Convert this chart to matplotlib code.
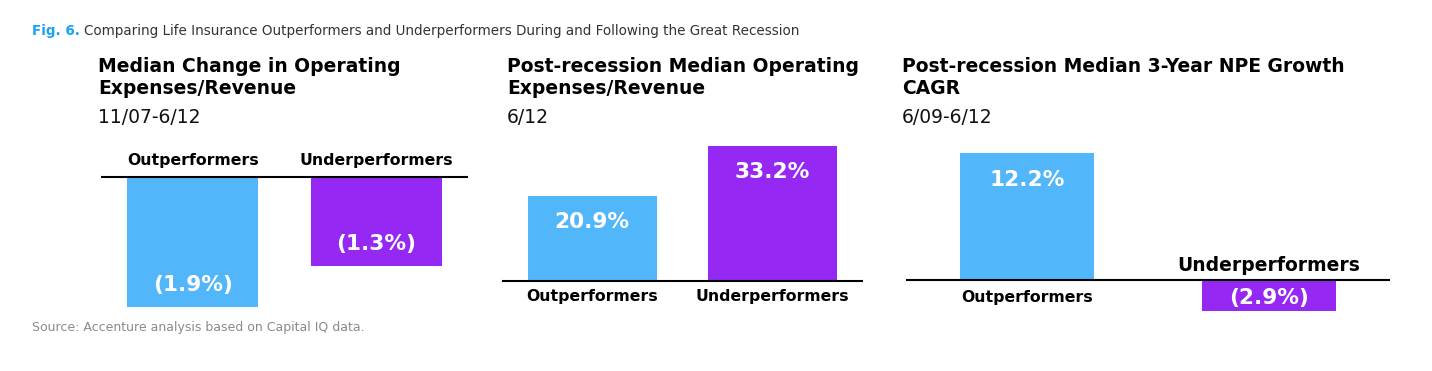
import matplotlib
matplotlib.use("Agg")
import matplotlib.pyplot as plt

# ---------------- data ----------------
categories = ["Outperformers", "Underperformers"]
panel_titles = [
    ["Median Change in Operating", "Expenses/Revenue"],
    ["Post-recession Median Operating", "Expenses/Revenue"],
    ["Post-recession Median 3-Year NPE Growth", "CAGR"],
]
panel_periods = ["11/07-6/12", "6/12", "6/09-6/12"]
change_opex = [-1.9, -1.3]
post_opex = [20.9, 33.2]
npe_growth = [12.2, -2.9]
caption_fig = "Fig. 6."
caption_text = ("Comparing Life Insurance Outperformers and Underperformers "
                "During and Following the Great Recession")
source_text = "Source: Accenture analysis based on Capital IQ data."

# ---------------- style ----------------
W, H, DPI = 1432, 371, 100
BLUE = "#52B6FA"
PURPLE = "#9529F3"
colors = [BLUE, PURPLE]
FONT = "DejaVu Sans"

fig = plt.figure(figsize=(W / DPI, H / DPI), dpi=DPI)
fig.patch.set_facecolor("white")

def fx(px):
    return px / W

def fy(py):
    return 1 - py / H

PT = 72.0 / DPI  # points per pixel

panels = [
    dict(values=change_opex, left=101, right=468, baseline=177, scale=68.3,
         width=0.714, title_x=98,
         cat_off=[17, 17], cat_size=[11.3, 11.3],
         val_off=[22, 22]),
    dict(values=post_opex, left=502, right=863, baseline=281, scale=4.07,
         width=0.716, title_x=507,
         cat_off=[-16, -16], cat_size=[11.3, 11.3],
         val_off=[-26, -26]),
    dict(values=npe_growth, left=906, right=1390, baseline=280.3, scale=10.45,
         width=0.554, title_x=902,
         cat_off=[-17, 15], cat_size=[11.3, 13.5],
         val_off=[-27, 13]),
]

AX_TOP, AX_BOT = 140, 318

for p, title_lines, period in zip(panels, panel_titles, panel_periods):
    ax = fig.add_axes([fx(p["left"]), fy(AX_BOT),
                       fx(p["right"]) - fx(p["left"]), (AX_BOT - AX_TOP) / H])
    ytop = (p["baseline"] - AX_TOP) / p["scale"]
    ybot = -(AX_BOT - p["baseline"]) / p["scale"]
    ax.set_ylim(ybot, ytop)
    ax.set_xlim(-0.5, 1.5)
    xs = list(range(len(categories)))
    ax.bar(xs, p["values"], width=p["width"], color=colors, linewidth=0,
           zorder=1)
    ax.axhline(0, color="black", lw=1.5, zorder=2)
    for s in ax.spines.values():
        s.set_visible(False)
    ax.set_xticks([])
    ax.set_yticks([])
    ax.patch.set_alpha(0)

    for i, (cat, v) in enumerate(zip(categories, p["values"])):
        ax.annotate(cat, xy=(i, 0), xytext=(0, p["cat_off"][i] * PT),
                    textcoords="offset points", ha="center", va="center",
                    fontsize=p["cat_size"][i], fontweight="bold",
                    family=FONT, color="black")
        lbl = f"{v:.1f}%" if v >= 0 else f"({abs(v):.1f}%)"
        ax.annotate(lbl, xy=(i, v), xytext=(0, p["val_off"][i] * PT),
                    textcoords="offset points", ha="center", va="center",
                    fontsize=15.6, fontweight="bold", family=FONT,
                    color="white", zorder=3)

    fig.text(fx(p["title_x"]), fy(72), title_lines[0], fontsize=13.5,
             fontweight="bold", family=FONT, ha="left", va="baseline")
    fig.text(fx(p["title_x"]), fy(94), title_lines[1], fontsize=13.5,
             fontweight="bold", family=FONT, ha="left", va="baseline")
    fig.text(fx(p["title_x"]), fy(123), period, fontsize=13.5,
             family=FONT, ha="left", va="baseline", color="#111111")

# caption
t1 = fig.text(fx(32), fy(35), caption_fig, fontsize=9.75, fontweight="bold",
              family=FONT, color="#1AA3F2", ha="left", va="baseline")
r = fig.canvas.get_renderer()
bb = t1.get_window_extent(renderer=r)
fig.text((bb.x1 + 4) / W, fy(35), caption_text, fontsize=9.75, family=FONT,
         color="#333333", ha="left", va="baseline")

fig.text(fx(32), fy(331), source_text, fontsize=9.0, family=FONT,
         color="#8a8a8a", ha="left", va="baseline")

fig.savefig("out.png", dpi=DPI, facecolor="white")
